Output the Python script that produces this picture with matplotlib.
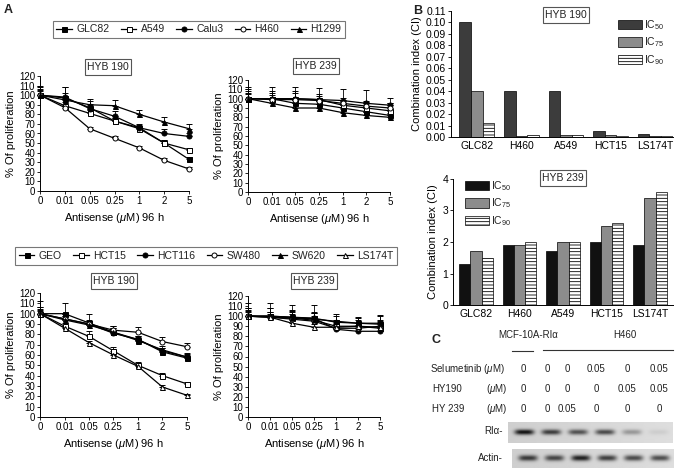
import numpy as np
import matplotlib
matplotlib.use("Agg")
import matplotlib.pyplot as plt
from matplotlib.lines import Line2D

plt.rcParams["font.family"] = ["Liberation Sans", "DejaVu Sans"]
plt.rcParams["mathtext.fontset"] = "custom"
plt.rcParams["mathtext.rm"] = "Liberation Sans"
plt.rcParams["mathtext.it"] = "Liberation Sans:italic"
plt.rcParams["mathtext.default"] = "regular"
plt.rcParams["hatch.linewidth"] = 0.6
plt.rcParams["text.color"] = "#222222"

# --- panel A data ---
DOSES = ["0", "0.01", "0.05", "0.25", "1", "2", "5"]

LUNG = ["GLC82", "A549", "Calu3", "H460", "H1299"]
LUNG_190 = [[100, 97, 87, 73, 66, 50, 33],
            [100, 89, 81, 73, 65, 50, 43],
            [100, 98, 86, 78, 66, 60, 57],
            [100, 87, 65, 55, 45, 32, 23],
            [100, 95, 90, 89, 80, 72, 65]]
LUNG_190_ERR = [[8, 5, 4, 3, 4, 3, 2],
                [6, 4, 3, 3, 3, 3, 2],
                [5, 10, 8, 5, 3, 5, 3],
                [4, 3, 2, 2, 2, 2, 2],
                [10, 14, 6, 6, 5, 5, 5]]
LUNG_239 = [[100, 100, 95, 94, 90, 86, 82],
            [100, 100, 100, 99, 93, 90, 87],
            [100, 100, 100, 99, 98, 95, 93],
            [100, 99, 99, 98, 95, 92, 90],
            [100, 95, 90, 90, 85, 82, 80]]
LUNG_239_ERR = [[5, 4, 4, 4, 3, 4, 3],
                [8, 8, 8, 6, 6, 6, 8],
                [12, 13, 13, 12, 12, 14, 8],
                [10, 7, 7, 5, 6, 5, 5],
                [6, 5, 5, 4, 4, 4, 4]]

COLON = ["GEO", "HCT15", "HCT116", "SW480", "SW620", "LS174T"]
COLON_190 = [[100, 100, 91, 82, 75, 63, 57],
             [100, 88, 78, 64, 50, 40, 32],
             [100, 95, 90, 81, 75, 64, 58],
             [100, 95, 90, 84, 82, 73, 68],
             [100, 94, 89, 82, 74, 65, 58],
             [100, 86, 72, 60, 49, 29, 21]]
COLON_190_ERR = [[12, 10, 9, 6, 3, 4, 3],
                 [5, 3, 5, 4, 3, 3, 2],
                 [6, 5, 4, 5, 3, 3, 3],
                 [4, 3, 3, 4, 5, 4, 4],
                 [6, 4, 4, 4, 3, 4, 4],
                 [3, 2, 2, 2, 2, 2, 1]]
COLON_239 = [[100, 100, 99, 98, 94, 93, 92],
             [100, 100, 98, 96, 90, 90, 88],
             [100, 99, 98, 98, 87, 85, 85],
             [100, 99, 97, 95, 88, 88, 90],
             [100, 100, 99, 97, 95, 93, 93],
             [100, 99, 93, 89, 89, 90, 89]]
COLON_239_ERR = [[13, 13, 12, 13, 8, 6, 8],
                 [8, 8, 8, 8, 6, 6, 6],
                 [6, 5, 6, 5, 6, 6, 10],
                 [5, 5, 5, 5, 4, 5, 6],
                 [8, 8, 6, 6, 5, 5, 8],
                 [4, 3, 3, 3, 3, 3, 4]]

# marker, face colour
LUNG_STYLE = [("s", "black"), ("s", "white"), ("o", "black"), ("o", "white"), ("^", "black")]
COLON_STYLE = [("s", "black"), ("s", "white"), ("o", "black"), ("o", "white"), ("^", "black"), ("^", "white")]

# --- panel B data ---
B_CELLS = ["GLC82", "H460", "A549", "HCT15", "LS174T"]
IC_LABELS = ["IC$_{50}$", "IC$_{75}$", "IC$_{90}$"]
CI_190 = [[0.10, 0.04, 0.04, 0.005, 0.003],
          [0.04, 0.0005, 0.002, 0.002, 0.001],
          [0.012, 0.002, 0.002, 0.001, 0.0005]]
CI_239 = [[1.3, 1.9, 1.7, 2.0, 1.9],
          [1.7, 1.9, 2.0, 2.5, 3.4],
          [1.5, 2.0, 2.0, 2.6, 3.6]]

# --- panel C data ---
SELUMETINIB = ["0", "0", "0", "0.05", "0", "0.05"]
HY190 = ["0", "0", "0", "0", "0.05", "0.05"]
HY239 = ["0", "0", "0.05", "0", "0", "0"]
RIA_BAND = [1.0, 0.8, 0.7, 0.75, 0.35, 0.08]
ACTIN_BAND = [0.8, 0.75, 0.95, 0.8, 0.75, 0.75]

W, H = 685, 469
fig = plt.figure(figsize=(W / 100, H / 100), dpi=100)


def px_axes(x0, y0, x1, y1):
    return fig.add_axes([x0 / W, 1 - y1 / H, (x1 - x0) / W, (y1 - y0) / H])


def px_text(x, y, s, **kw):
    return fig.text(x / W, 1 - y / H, s, **kw)


def title_box(x, y, s):
    px_text(x, y, s, ha="center", va="center", fontsize=7.5,
            bbox=dict(boxstyle="square,pad=0.25", fc="white", ec="#555555", lw=0.8))


def line_panel(box, series, errs, styles):
    ax = px_axes(*box)
    xs = np.arange(len(DOSES))
    for y, e, (m, fc) in zip(series, errs, styles):
        ax.errorbar(xs, y, yerr=[np.zeros(len(e)), e], color="black", lw=0.9,
                    marker=m, ms=3.6, mfc=fc, mec="black", mew=0.7,
                    capsize=2, elinewidth=0.6, capthick=0.6, clip_on=False)
    ax.set_xlim(0, 6)
    ax.set_ylim(0, 120)
    ax.set_xticks(xs, DOSES)
    ax.set_yticks(range(0, 121, 10))
    for s in ["top", "right"]:
        ax.spines[s].set_visible(False)
    for s in ["left", "bottom"]:
        ax.spines[s].set_linewidth(0.7)
    ax.tick_params(labelsize=7, length=2, width=0.6, pad=1.5)
    ax.set_ylabel("% Of proliferation", fontsize=8, labelpad=2)
    ax.set_xlabel("Antisense ($\\mathit{\\mu}$M) 96 h", fontsize=8, labelpad=4)
    return ax


def line_legend(names, styles, cx, cy, colsp):
    handles = [Line2D([], [], color="black", lw=0.9, marker=m, ms=3.6, mfc=fc,
                      mec="black", mew=0.7) for m, fc in styles]
    leg = fig.legend(handles, names, loc="center", bbox_to_anchor=(cx / W, 1 - cy / H),
                     ncol=len(names), fontsize=7.5, frameon=True, fancybox=False,
                     edgecolor="#555555", handlelength=1.5, handletextpad=0.4,
                     columnspacing=colsp, borderpad=0.35)
    leg.get_frame().set_linewidth(0.8)


# ---------------- A ----------------
px_text(4, 10, "A", fontsize=9, fontweight="bold", va="center")
line_legend(LUNG, LUNG_STYLE, 199, 29.5, 1.1)
line_panel((40, 76, 189, 191), LUNG_190, LUNG_190_ERR, LUNG_STYLE)
line_panel((248, 80, 390, 192), LUNG_239, LUNG_239_ERR, LUNG_STYLE)
title_box(108, 67, "HYB 190")
title_box(316, 66, "HYB 239")

line_legend(COLON, COLON_STYLE, 206, 256, 1.1)
line_panel((40, 293, 187, 417), COLON_190, COLON_190_ERR, COLON_STYLE)
line_panel((248, 296, 380, 417), COLON_239, COLON_239_ERR, COLON_STYLE)
title_box(114, 281, "HYB 190")
title_box(314, 281, "HYB 239")

# ---------------- B ----------------
px_text(413, 11, "B", fontsize=9, fontweight="bold", va="center")


def bar_panel(box, values, colors, xlim, ylim, yticks, fmt, leg_xy):
    ax = px_axes(*box)
    x = np.arange(len(B_CELLS))
    w = 0.26
    for i, (vals, c) in enumerate(zip(values, colors)):
        ax.bar(x + (i - 1) * w, vals, w, color=c, edgecolor="black", lw=0.5,
               hatch="-----" if i == 2 else None, label=IC_LABELS[i])
    ax.set_xlim(*xlim)
    ax.set_ylim(*ylim)
    ax.set_xticks(x, B_CELLS)
    ax.set_yticks(yticks, [fmt.format(t) for t in yticks])
    for s in ["top", "right"]:
        ax.spines[s].set_visible(False)
    for s in ["left", "bottom"]:
        ax.spines[s].set_linewidth(0.7)
    ax.tick_params(axis="x", length=0, labelsize=7.5, pad=3)
    ax.tick_params(axis="y", length=2, width=0.6, labelsize=7.5, pad=1.5)
    ax.set_ylabel("Combination index (CI)", fontsize=8, labelpad=3)
    ax.legend(loc="upper left", bbox_to_anchor=(leg_xy[0] / W, 1 - leg_xy[1] / H),
              bbox_transform=fig.transFigure, frameon=False, fontsize=7.5,
              handlelength=2.3, handleheight=1.0, handletextpad=0.2,
              labelspacing=0.35, borderaxespad=0, borderpad=0)
    return ax


bar_panel((451, 11, 673, 137), CI_190, ["#3c3c3c", "#8c8c8c", "white"],
          (-0.58, 4.40), (0, 0.11), np.round(np.arange(0, 0.111, 0.01), 2), "{:.2f}",
          (618, 18))
title_box(566, 15, "HYB 190")

bar_panel((453, 179, 673, 305), CI_239, ["#111111", "#8c8c8c", "white"],
          (-0.53, 4.53), (0, 4), [0, 1, 2, 3, 4], "{:d}", (465, 179))
title_box(563, 178, "HYB 239")

# ---------------- C ----------------
px_text(432, 340, "C", fontsize=9, fontweight="bold", va="center")
px_text(528, 335, "MCF-10A-RI\u03b1", ha="center", va="center", fontsize=7)
px_text(625, 335, "H460", ha="center", va="center", fontsize=7)
fig.add_artist(Line2D([512 / W, 533 / W], [1 - 351 / H] * 2, color="#333333", lw=0.8))
fig.add_artist(Line2D([543 / W, 673 / W], [1 - 350 / H] * 2, color="#333333", lw=0.8))

COL_X = [523, 547, 567, 596, 627, 659]
px_text(430, 369, "Selumetinib ($\\mathit{\\mu}$M)", va="center", fontsize=7)
px_text(432, 389, "HY190", va="center", fontsize=7)
px_text(486, 389, "($\\mathit{\\mu}$M)", va="center", fontsize=7)
px_text(432, 409, "HY 239", va="center", fontsize=7)
px_text(486, 409, "($\\mathit{\\mu}$M)", va="center", fontsize=7)
for row_y, row in zip([369, 389, 409], [SELUMETINIB, HY190, HY239]):
    for cx, v in zip(COL_X, row):
        px_text(cx, row_y, v, ha="center", va="center", fontsize=7)

px_text(503, 431, "RI\u03b1-", ha="right", va="center", fontsize=7)
px_text(503, 458, "Actin-", ha="right", va="center", fontsize=7)


def blot(box, intens, y0, sig):
    ax = px_axes(*box)
    xs = np.linspace(-0.6, 5.52, 330)
    ys = np.linspace(0, 1, 44)
    img = np.full((len(ys), len(xs)), 0.84)
    img += 0.03 * np.linspace(-1, 1, len(xs))[None, :]
    for i, v in enumerate(intens):
        hor = np.exp(-np.abs((xs - i) / 0.36) ** 4)
        ver = np.exp(-((ys - y0) / sig) ** 2)
        img -= 0.75 * v * ver[:, None] * hor[None, :]
    ax.imshow(img, cmap="gray", vmin=0, vmax=1, aspect="auto",
              extent=(-0.6, 5.52, 0, 1), interpolation="bilinear")
    ax.set_axis_off()


blot((508, 422, 673, 443), RIA_BAND, 0.48, 0.13)
blot((512, 449, 673, 468), ACTIN_BAND, 0.5, 0.15)

fig.savefig("out.png", dpi=100)
